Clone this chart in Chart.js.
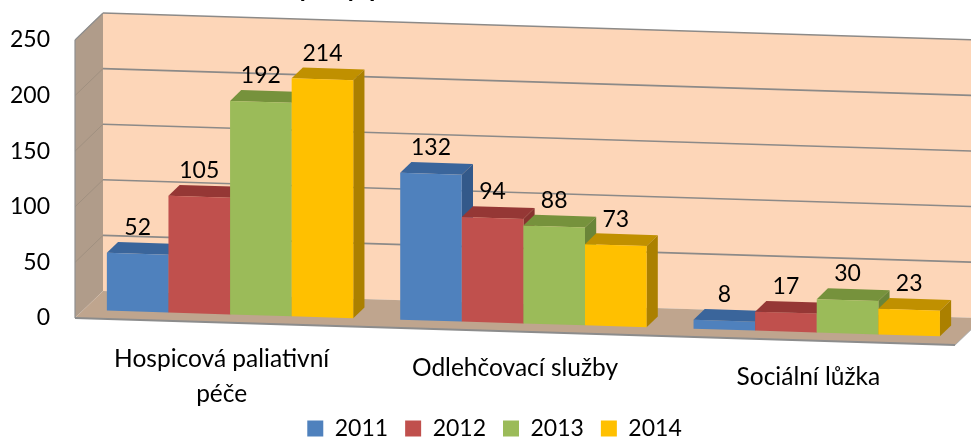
<!DOCTYPE html>
<html>
<head>
<meta charset="utf-8">
<style>
html, body { margin: 0; padding: 0; background: #fff; overflow: hidden; }
#wrap { width: 971px; height: 438px; }
</style>
<script src="https://cdn.jsdelivr.net/npm/chart.js@4/dist/chart.umd.js"></script>
</head>
<body>
<div id="wrap"><canvas id="chart"></canvas></div>
<script>
const categories = [["Hospicová paliativní", "péče"], ["Odlehčovací služby"], ["Sociální lůžka"]];
const years = ["2011", "2012", "2013", "2014"];
const values2011 = [52, 132, 8];
const values2012 = [105, 94, 17];
const values2013 = [192, 88, 30];
const values2014 = [214, 73, 23];
const frontColors = ["#4F81BD", "#C0504D", "#9BBB59", "#FFC000"];
const topColors = ["#3A659B", "#953735", "#76923C", "#C09000"];
const sideColors = ["#33598A", "#87322F", "#6A8538", "#AB8000"];
// only the descenders of the title survive the crop at the top of the picture
const titleScraps = [["y", 298], ["y", 346], ["p", 369]];

const FONT = "Lato, Carlito, sans-serif";
const SLOPE = 0.0308;           // the whole picture leans down to the right
const DEPTH_X = 28, DEPTH_Y = 27; // front edge of the floor to the back wall
const BAR_FRONT = 0.3, BAR_BACK = 0.7;

function project(chart, x, y, d) {
    return [x + DEPTH_X * d, y + SLOPE * (x - chart.chartArea.left) - DEPTH_Y * d];
}

function fillPoly(ctx, points, color) {
    ctx.beginPath();
    points.forEach(([x, y], i) => (i ? ctx.lineTo(x, y) : ctx.moveTo(x, y)));
    ctx.closePath();
    ctx.fillStyle = color;
    ctx.fill();
}

function strokeLine(ctx, a, b, color, width) {
    ctx.beginPath();
    ctx.moveTo(a[0], a[1]);
    ctx.lineTo(b[0], b[1]);
    ctx.strokeStyle = color;
    ctx.lineWidth = width;
    ctx.stroke();
}

function drawWalls(chart) {
    const { ctx, chartArea: { left, right }, scales: { y } } = chart;
    const top = y.getPixelForValue(y.max), bottom = y.getPixelForValue(0);
    const p = (px, py, d) => project(chart, px, py, d);
    fillPoly(ctx, [p(left, top, 1), p(right, top, 1), p(right, bottom, 1), p(left, bottom, 1)], "#FDD6B8");
    fillPoly(ctx, [p(left, top, 0), p(left, top, 1), p(left, bottom, 1), p(left, bottom, 0)], "#B09C8A");
    fillPoly(ctx, [p(left, bottom, 0), p(left, bottom, 1), p(right, bottom, 1), p(right, bottom, 0)], "#BFA58E");
    y.ticks.forEach(tick => {
        const py = y.getPixelForValue(tick.value);
        if (tick.value > 0) {
            strokeLine(ctx, p(left, py, 1), p(right, py, 1), "#8C8A88", 1.6);
            strokeLine(ctx, p(left, py, 0), p(left, py, 1), "#A09080", 1);
        }
    });
    strokeLine(ctx, p(left, top, 0), p(left, bottom, 0), "#8F8F8F", 1.2);
    strokeLine(ctx, p(left, top, 0), p(left, top, 1), "#8F8F8F", 1.2);
    strokeLine(ctx, p(left, bottom, 0), p(right, bottom, 0), "#8C8C8C", 2);
    strokeLine(ctx, p(right, bottom, 0), p(right, bottom, 1), "#A8A8A8", 1);
}

function drawBars(chart, j) {
    const { ctx, chartArea: { left } } = chart;
    const meta = chart.getDatasetMeta(j);
    const p = (px, py, d) => project(chart, px, py, d);
    ctx.save();
    meta.data.forEach(bar => {
        const { x, y, base, width } = bar.getProps(["x", "y", "base", "width"], true);
        const r = x + width / 2, l = x - width / 2;
        fillPoly(ctx, [p(l, y, BAR_FRONT), p(l, y, BAR_BACK), p(r, y, BAR_BACK), p(r, y, BAR_FRONT)], topColors[j]);
        fillPoly(ctx, [p(r, y, BAR_FRONT), p(r, y, BAR_BACK), p(r, base, BAR_BACK), p(r, base, BAR_FRONT)], sideColors[j]);
    });
    // the library draws the front faces, leaned into the bar plane
    ctx.transform(1, SLOPE, 0, 1, DEPTH_X * BAR_FRONT, -SLOPE * left - DEPTH_Y * BAR_FRONT);
    meta.controller.draw();
    ctx.restore();
}

const box3d = {
    id: "box3d",
    afterLayout(chart) {
        // legend sits centred on the whole picture plus a bit, not on the plot
        chart.legend.left += 17;
        chart.legend.right += 17;
    },
    beforeDatasetsDraw(chart) {
        drawWalls(chart);
        // left to right, so each bar covers the side of the one before it
        chart.data.datasets.forEach((ds, j) => drawBars(chart, j));
    },
    beforeDatasetDraw() {
        return false;
    },
    afterDatasetsDraw(chart) {
        const { ctx, chartArea: { bottom }, scales: { x } } = chart;
        ctx.save();
        ctx.fillStyle = "#000";
        ctx.textAlign = "center";
        ctx.textBaseline = "middle";
        ctx.font = "23px " + FONT;
        chart.data.datasets.forEach((ds, j) => {
            chart.getDatasetMeta(j).data.forEach((bar, i) => {
                const [px, py] = project(chart, bar.x, bar.y, BAR_FRONT);
                ctx.fillText(ds.data[i], px, py - 26);
            });
        });
        ctx.font = "24.5px " + FONT;
        categories.forEach((lines, i) => {
            const [px, py] = project(chart, x.getPixelForValue(i), bottom + 37, 0);
            lines.forEach((line, n) => ctx.fillText(line, px, py + n * 35));
        });
        ctx.font = "bold 26px " + FONT;
        ctx.textAlign = "left";
        ctx.textBaseline = "alphabetic";
        titleScraps.forEach(([text, px]) => ctx.fillText(text, px, -3));
        ctx.restore();
    }
};

new Chart(document.getElementById("chart"), {
    type: "bar",
    data: {
        labels: categories.map(lines => lines.join(" ")),
        datasets: [
            { label: years[0], data: values2011, backgroundColor: frontColors[0] },
            { label: years[1], data: values2012, backgroundColor: frontColors[1] },
            { label: years[2], data: values2013, backgroundColor: frontColors[2] },
            { label: years[3], data: values2014, backgroundColor: frontColors[3] }
        ]
    },
    options: {
        responsive: true,
        maintainAspectRatio: false,
        animation: false,
        layout: { padding: { top: 40, right: 16, left: 0, bottom: -12 } },
        categoryPercentage: 0.84,
        barPercentage: 1,
        plugins: {
            tooltip: { enabled: false },
            legend: {
                position: "bottom",
                labels: {
                    font: { family: FONT, size: 23 },
                    color: "#000",
                    boxWidth: 16,
                    boxHeight: 16,
                    padding: 17
                }
            }
        },
        scales: {
            x: {
                grid: { display: false },
                border: { display: false },
                ticks: { display: false },
                afterFit(scale) { scale.height = 82; }
            },
            y: {
                min: 0,
                max: 250,
                grid: { display: false, drawTicks: false },
                border: { display: false },
                ticks: {
                    stepSize: 50,
                    padding: 25,
                    color: "#000",
                    font: { family: FONT, size: 23 }
                },
                afterFit(scale) { scale.width = 75; }
            }
        }
    },
    plugins: [box3d]
});
</script>
</body>
</html>
